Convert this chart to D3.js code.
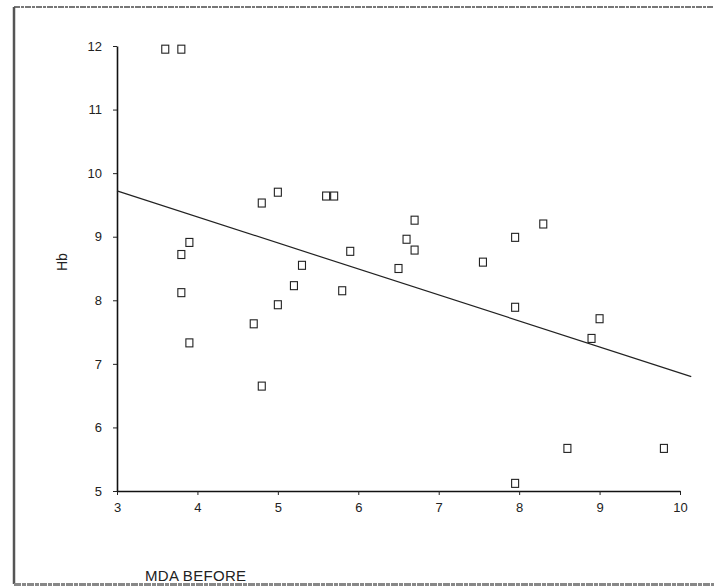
<!DOCTYPE html>
<html>
<head>
<meta charset="utf-8">
<script src="https://cdn.jsdelivr.net/npm/d3@7/dist/d3.min.js"></script>
<style>
  html, body { margin: 0; padding: 0; background: #fff; }
  svg { display: block; }
  text { font-family: "Liberation Sans", Arial, sans-serif; fill: #222; }
</style>
</head>
<body>
<svg id="chart" width="714" height="588"></svg>
<script>
// MDA before treatment vs. haemoglobin, one square per patient
const mdaBefore = [3.6, 3.8, 4.8, 5.0, 5.6, 5.7, 6.7, 8.3, 3.9, 3.8, 6.6, 6.7, 5.9, 5.3, 6.5,
                   7.55, 7.95, 5.2, 3.8, 5.8, 5.0, 7.95, 9.0, 8.9, 4.7, 3.9, 4.8, 8.6, 9.8, 7.95];
const hb        = [11.95, 11.95, 9.53, 9.7, 9.64, 9.64, 9.26, 9.2, 8.91, 8.72, 8.96, 8.79, 8.77, 8.55, 8.5,
                   8.6, 8.99, 8.23, 8.12, 8.15, 7.93, 7.89, 7.71, 7.4, 7.63, 7.33, 6.65, 5.67, 5.67, 5.12];

// fitted regression line, end points
const fitX = [3, 10.14];
const fitY = [9.72, 6.8];

const xTicks = [3, 4, 5, 6, 7, 8, 9, 10];
const yTicks = [5, 6, 7, 8, 9, 10, 11, 12];

const svg = d3.select("#chart");

// page frame
svg.append("line").attr("x1", 14).attr("y1", 7).attr("x2", 714).attr("y2", 7)
  .attr("stroke", "#777").attr("stroke-width", 2).attr("stroke-dasharray", "6,1,3,1");
svg.append("line").attr("x1", 14).attr("y1", 7).attr("x2", 14).attr("y2", 584)
  .attr("stroke", "#555").attr("stroke-width", 2.5);
svg.append("line").attr("x1", 14).attr("y1", 584.5).attr("x2", 714).attr("y2", 584.5)
  .attr("stroke", "#888").attr("stroke-width", 3).attr("stroke-dasharray", "7,1,4,1");

const x = d3.scaleLinear().domain([3, 10]).range([117, 680]);
const y = d3.scaleLinear().domain([5, 12]).range([491, 46]);

// axes
const xAxis = d3.axisBottom(x).tickValues(xTicks).tickFormat(d3.format("d"))
  .tickSize(4).tickSizeOuter(0).tickPadding(8);
const yAxis = d3.axisLeft(y).tickValues(yTicks).tickFormat(d3.format("d"))
  .tickSize(4).tickSizeOuter(0).tickPadding(11);

const gx = svg.append("g").attr("transform", `translate(0,${y(5)})`).call(xAxis);
const gy = svg.append("g").attr("transform", `translate(${x(3)},0)`).call(yAxis);

[gx, gy].forEach(g => {
  g.select(".domain").attr("stroke", "#111").attr("stroke-width", 1.6);
  g.selectAll(".tick line").attr("stroke", "#222").attr("stroke-width", 1);
  g.selectAll(".tick text")
    .attr("font-family", "'Liberation Sans', Arial, sans-serif")
    .attr("font-size", 13).attr("fill", "#222");
});

// axis titles
svg.append("text")
  .attr("transform", `translate(67,${y(8.6)}) rotate(-90)`)
  .attr("text-anchor", "middle")
  .attr("font-size", 14)
  .text("Hb");

svg.append("text")
  .attr("x", 145).attr("y", 581)
  .attr("font-size", 15)
  .attr("letter-spacing", 0.3)
  .text("MDA BEFORE");

// regression line
svg.append("line")
  .attr("x1", x(fitX[0])).attr("y1", y(fitY[0]))
  .attr("x2", x(fitX[1])).attr("y2", y(fitY[1]))
  .attr("stroke", "#222").attr("stroke-width", 1.2);

// points
const pts = d3.zip(mdaBefore, hb);
svg.append("g").selectAll("rect").data(pts).join("rect")
  .attr("x", d => x(d[0]) - 3.5)
  .attr("y", d => y(d[1]) - 4)
  .attr("width", 7).attr("height", 8)
  .attr("fill", "none")
  .attr("stroke", "#222").attr("stroke-width", 1.1);
</script>
</body>
</html>
